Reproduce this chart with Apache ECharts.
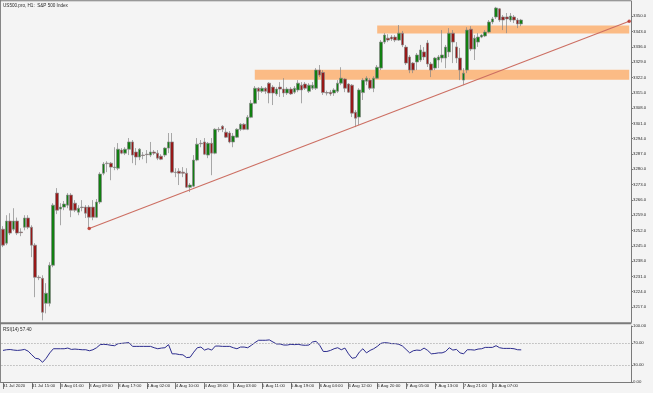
<!DOCTYPE html>
<html><head><meta charset="utf-8">
<script src="https://cdn.jsdelivr.net/npm/echarts@6/dist/echarts.min.js"></script>
<style>html,body{margin:0;padding:0;background:#f4f4f4;}#c{width:653px;height:393px;}</style>
</head><body><div id="c"></div>
<script>
const titleText = 'US500.pro, H1:  S&P 500 Index';
const rsiTitle = 'RSI(14) 57.40';
const totalSlots = 175;
const labelEvery = 8;
const timeLabels = ['31 Jul 2020','31 Jul 15:00','3 Aug 01:00','3 Aug 09:00','3 Aug 17:00','4 Aug 02:00','4 Aug 10:00','4 Aug 18:00','5 Aug 03:00','5 Aug 11:00','5 Aug 19:00','6 Aug 04:00','6 Aug 12:00','6 Aug 20:00','7 Aug 05:00','7 Aug 13:00','7 Aug 21:00','10 Aug 07:00'];

const opens = [3252.6,3246.2,3256.3,3252.6,3256.3,3251.3,3253.5,3257.7,3253.5,3245.3,
3230.6,3230.1,3218.7,3218.7,3236.1,3269.1,3261.8,3262.7,3263.6,3268.2,
3264.5,3260.4,3262.7,3262.7,3262.7,3262.7,3258.1,3265.0,3278.2,3282.8,
3282.8,3280.8,3280.5,3288.8,3287.4,3289.2,3292.5,3287.9,3285.6,3286.5,
3286.9,3286.5,3287.9,3287.4,3286.0,3286.5,3289.7,3292.5,3278.7,3279.1,
3278.7,3278.2,3271.8,3272.3,3284.2,3291.9,3292.5,3286.5,3291.9,3287.4,
3298.3,3299.7,3297.0,3296.6,3292.5,3294.7,3298.3,3300.6,3298.3,3303.8,
3310.2,3317.1,3315.7,3317.1,3319.4,3317.6,3314.5,3317.6,3316.7,3314.9,
3316.7,3315.3,3316.3,3318.5,3319.0,3315.7,3317.1,3317.1,3325.4,3324.3,
3315.1,3315.3,3314.9,3315.7,3319.4,3321.3,3319.0,3318.5,3306.1,3303.9,
3315.1,3320.3,3320.8,3317.1,3321.7,3326.3,3338.2,3340.0,3340.5,3340.5,
3339.1,3342.3,3335.9,3331.4,3328.6,3329.1,3330.0,3333.7,3337.8,3328.2,
3326.3,3330.0,3330.9,3330.9,3333.7,3342.3,3336.0,3330.9,3320.8,3325.4,
3344.1,3335.0,3338.2,3340.5,3341.0,3342.8,3347.4,3349.7,3353.4,3349.7,
3349.7,3348.3,3349.7,3348.3,3346.5];
const closes = [3245.3,3256.3,3250.8,3256.3,3250.8,3251.0,3257.7,3253.5,3245.3,3230.6,
3230.4,3214.6,3223.3,3236.1,3263.6,3261.3,3262.7,3264.1,3268.2,3261.3,
3261.3,3262.2,3262.5,3259.9,3258.1,3258.1,3265.0,3277.8,3282.4,3282.6,
3281.0,3281.0,3289.2,3287.4,3289.2,3292.5,3286.5,3285.6,3289.2,3286.3,
3286.7,3287.9,3287.4,3285.1,3284.6,3289.7,3292.5,3278.7,3278.5,3278.2,
3278.2,3271.8,3272.8,3284.2,3291.5,3291.7,3286.9,3291.9,3287.4,3298.3,
3298.1,3298.3,3294.7,3292.5,3295.2,3298.3,3300.6,3298.3,3303.8,3310.2,
3317.1,3315.7,3317.1,3315.7,3314.9,3314.9,3316.7,3316.7,3314.9,3316.7,
3314.5,3317.1,3319.4,3316.3,3317.1,3318.5,3318.5,3325.4,3323.1,3315.1,
3314.9,3314.5,3316.3,3319.4,3321.7,3317.1,3315.3,3305.7,3303.4,3316.3,
3320.8,3321.7,3317.1,3321.7,3326.7,3338.2,3341.4,3339.1,3339.6,3339.1,
3342.3,3336.9,3328.6,3325.4,3325.4,3332.3,3334.6,3331.4,3328.2,3325.4,
3330.9,3331.4,3332.3,3335.9,3342.3,3338.2,3330.9,3325.4,3324.0,3343.7,
3335.0,3340.0,3340.5,3341.4,3342.8,3347.4,3348.8,3353.8,3348.3,3348.3,
3348.8,3350.1,3348.3,3346.5,3348.3];
const highs = [3254.0,3259.0,3259.9,3262.2,3257.9,3253.0,3259.0,3259.0,3254.4,3246.2,
3231.5,3231.5,3227.9,3237.5,3264.5,3271.4,3264.5,3265.5,3269.1,3269.1,
3265.9,3263.6,3265.9,3263.6,3263.6,3265.9,3266.4,3278.7,3283.3,3283.7,
3283.3,3290.1,3292.0,3289.7,3290.1,3294.3,3293.4,3289.7,3289.7,3287.9,
3288.8,3292.5,3288.8,3288.8,3286.9,3290.1,3296.6,3296.6,3280.5,3280.5,
3281.0,3280.5,3273.7,3286.5,3294.3,3293.4,3294.3,3292.5,3294.3,3298.8,
3299.3,3300.2,3298.8,3297.5,3296.6,3298.8,3301.1,3301.1,3304.8,3311.7,
3318.1,3317.6,3318.1,3317.6,3319.9,3318.5,3317.6,3319.9,3321.7,3317.6,
3317.6,3318.1,3320.8,3319.9,3319.9,3319.4,3319.9,3326.3,3327.7,3325.4,
3316.0,3316.3,3317.1,3320.8,3326.7,3321.7,3319.4,3319.0,3307.1,3317.1,
3321.7,3322.6,3321.7,3322.6,3327.7,3339.1,3342.3,3341.8,3341.4,3341.4,
3346.0,3343.3,3336.9,3332.3,3329.1,3333.2,3336.9,3335.9,3339.1,3329.1,
3331.4,3332.3,3343.7,3336.9,3344.6,3343.7,3338.2,3335.5,3326.3,3345.0,
3345.5,3341.4,3342.3,3341.8,3343.7,3348.3,3349.7,3354.3,3353.8,3350.6,
3351.5,3351.5,3350.6,3349.2,3348.8];
const lows = [3244.4,3245.3,3249.9,3251.7,3249.9,3249.4,3252.1,3252.6,3239.8,3221.5,
3229.3,3210.9,3214.1,3217.3,3235.2,3259.5,3254.4,3261.3,3262.2,3258.1,
3260.4,3259.0,3260.8,3257.7,3252.9,3256.7,3257.7,3264.1,3277.3,3278.7,
3275.0,3279.6,3279.6,3286.9,3286.5,3286.5,3282.8,3281.9,3284.2,3284.6,
3282.8,3285.6,3286.5,3284.2,3284.2,3285.6,3287.4,3278.2,3276.4,3272.8,
3276.4,3271.4,3269.6,3271.8,3283.7,3290.1,3286.5,3285.1,3277.3,3286.9,
3297.0,3297.0,3294.3,3291.9,3290.1,3294.3,3297.5,3297.9,3297.9,3303.4,
3309.8,3311.7,3314.9,3314.5,3310.2,3309.4,3313.6,3313.1,3313.1,3314.0,
3314.0,3314.5,3315.3,3310.2,3316.3,3314.9,3316.3,3316.3,3322.2,3314.0,
3313.8,3313.6,3313.6,3314.9,3318.5,3315.3,3314.9,3303.9,3299.3,3300.2,
3311.7,3318.5,3316.3,3315.3,3321.3,3325.4,3337.3,3338.2,3338.7,3338.2,
3338.7,3335.9,3327.7,3324.0,3324.0,3325.4,3329.1,3330.0,3326.8,3322.2,
3325.4,3326.3,3328.9,3326.3,3331.4,3328.6,3328.6,3320.8,3318.5,3324.0,
3334.1,3330.0,3336.0,3340.0,3340.5,3342.3,3346.4,3348.8,3347.4,3343.7,
3342.3,3347.4,3346.9,3344.6,3345.5];
const rsi = [56.4,57.6,58.0,57.0,56.4,57.0,58.2,55.0,48.5,42.4,
41.2,35.2,42.4,52.0,59.4,59.4,59.4,59.4,60.6,58.2,
58.8,58.2,57.6,57.6,55.8,57.6,61.2,66.7,67.3,66.7,
65.5,64.8,68.5,69.0,69.7,70.3,63.6,63.6,63.6,63.6,
63.6,63.6,61.2,59.4,60.6,61.2,66.7,50.3,50.3,49.0,
48.5,43.6,44.2,53.3,61.2,62.4,57.0,59.4,57.0,64.2,
64.2,63.6,63.6,63.6,61.2,59.4,62.4,62.4,61.2,65.5,
70.3,74.5,74.5,74.5,75.2,71.5,67.9,67.9,66.0,66.0,
67.3,66.7,67.3,66.0,65.5,66.0,71.5,72.7,65.5,54.5,
54.5,56.4,59.4,61.2,57.6,60.6,50.3,42.4,43.6,53.3,
59.4,52.0,56.4,59.4,63.6,69.0,70.3,69.7,68.5,68.5,
67.3,64.2,58.2,52.0,55.8,57.0,56.4,60.6,56.4,50.3,
50.9,52.0,52.0,54.5,61.2,57.0,58.2,52.0,50.3,57.6,
57.6,57.0,58.8,59.4,61.8,61.8,61.8,64.8,61.2,60.0,
60.0,60.0,59.4,57.6,57.4];
const rsiLevels = [70, 30];
const rsiAxisValues = [0, 30, 70, 100];
const upperBand = {start: 104, end: 174, top: 3345.8, bottom: 3342.1};
const lowerBand = {start: 70, end: 174, top: 3325.5, bottom: 3321.0};
const trendStart = [24, 3252.9];
const trendEnd = [174, 3347.7];

const categories = Array.from({length: totalSlots}, (_, i) => String(i));
const candles = opens.map((o, i) => [o, closes[i], lows[i], highs[i]]);
const isLabel = (i) => i % labelEvery === 0 && (i / labelEvery) < timeLabels.length;

const chart = echarts.init(document.getElementById('c'), null, {renderer: 'canvas'});
const axisCol = '#7a7a7a';
const textCol = '#2a2a2a';
const font = 'Liberation Sans';

chart.setOption({
  animation: false,
  backgroundColor: '#f4f4f4',
  grid: [
    {left: 1, right: 22, top: 1, height: 321.3},
    {left: 1, right: 22, top: 326, height: 56}
  ],
  xAxis: [
    {type: 'category', gridIndex: 0, data: categories, boundaryGap: true,
     axisLine: {show: false}, axisTick: {show: false}, axisLabel: {show: false}, splitLine: {show: false}},
    {type: 'category', gridIndex: 1, data: categories, boundaryGap: true,
     axisLine: {show: true, lineStyle: {color: axisCol, width: 1}},
     axisTick: {show: true, alignWithLabel: true, interval: (i) => isLabel(i), length: 7, lineStyle: {color: axisCol}},
     axisLabel: {show: true, interval: (i) => isLabel(i), align: 'left', margin: 2, fontSize: 4.3, fontFamily: font, color: textCol,
       formatter: (v, i) => isLabel(i) ? timeLabels[i / labelEvery] : ''},
     splitLine: {show: false}}
  ],
  yAxis: [
    {type: 'value', gridIndex: 0, position: 'right', min: 3210, max: 3357, interval: 7, scale: true,
     axisLine: {show: true, lineStyle: {color: axisCol}},
     axisTick: {show: true, length: 2, lineStyle: {color: axisCol}},
     axisLabel: {show: true, showMinLabel: false, showMaxLabel: false, margin: 2, fontSize: 4.3, fontFamily: font, color: textCol,
       formatter: (v) => v.toFixed(1)},
     splitLine: {show: false}},
    {type: 'value', gridIndex: 1, position: 'right', min: 0, max: 100,
     axisLine: {show: true, lineStyle: {color: axisCol}},
     axisTick: {show: true, length: 2, customValues: rsiAxisValues, lineStyle: {color: axisCol}},
     axisLabel: {show: true, customValues: rsiAxisValues, margin: 2, fontSize: 4.3, fontFamily: font, color: textCol,
       formatter: (v) => v.toFixed(2)},
     splitLine: {show: false}}
  ],
  series: [
    {type: 'candlestick', xAxisIndex: 0, yAxisIndex: 0, data: candles, barWidth: 3, z: 2,
     itemStyle: {color: '#117f11', color0: '#971818', borderColor: '#858585', borderColor0: '#858585', borderWidth: 0.7}},
    {type: 'line', xAxisIndex: 0, yAxisIndex: 0, data: [], z: 5, silent: true,
     markArea: {silent: true, itemStyle: {color: 'rgba(253,165,90,0.72)'},
       data: [
         [{xAxis: String(upperBand.start), yAxis: upperBand.top}, {xAxis: String(upperBand.end), yAxis: upperBand.bottom}],
         [{xAxis: String(lowerBand.start), yAxis: lowerBand.top}, {xAxis: String(lowerBand.end), yAxis: lowerBand.bottom}]
       ]},
     markLine: {silent: true, symbol: ['none', 'none'], label: {show: false},
       lineStyle: {color: '#cc6e62', width: 1.1, type: 'solid'},
       data: [[{coord: [String(trendStart[0]), trendStart[1]]}, {coord: [String(trendEnd[0]), trendEnd[1]]}]]}},
    {type: 'scatter', xAxisIndex: 0, yAxisIndex: 0, z: 6, symbol: 'circle', symbolSize: 3.5, silent: true,
     itemStyle: {color: '#b8281e'},
     data: [[String(trendStart[0]), trendStart[1]], [String(trendEnd[0]), trendEnd[1]]]},
    {type: 'line', xAxisIndex: 1, yAxisIndex: 1, data: rsi, showSymbol: false, symbol: 'none',
     lineStyle: {color: '#2c2c8e', width: 1}, z: 3,
     markLine: {silent: true, symbol: ['none', 'none'], label: {show: false},
       lineStyle: {color: '#a8a8a8', width: 0.8, type: [1.5, 1.5]},
       data: rsiLevels.map(v => ({yAxis: v}))}}
  ],
  graphic: [
    {type: 'rect', shape: {x: 0, y: 0, width: 0.9, height: 383}, style: {fill: axisCol}, z: 10},
    {type: 'rect', shape: {x: 0, y: 0.3, width: 631, height: 0.9}, style: {fill: axisCol}, z: 10},
    {type: 'rect', shape: {x: 0, y: 322.3, width: 631.5, height: 2}, style: {fill: axisCol}, z: 10},
    {type: 'text', left: 3, top: 3, style: {text: titleText, fontSize: 4.6, fontFamily: font, fill: textCol}, z: 10},
    {type: 'text', left: 3, top: 327, style: {text: rsiTitle, fontSize: 4.6, fontFamily: font, fill: textCol}, z: 10}
  ]
});
</script>
</body></html>
